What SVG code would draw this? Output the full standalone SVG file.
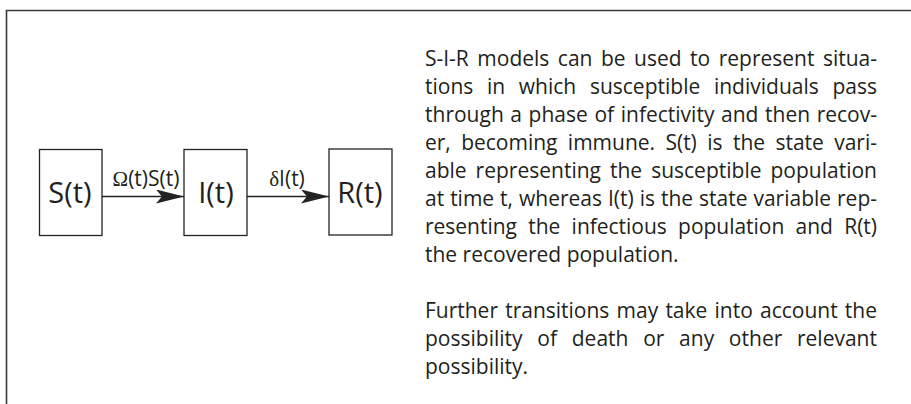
<svg xmlns="http://www.w3.org/2000/svg" width="911" height="404" viewBox="0 0 911 404">
<defs>
<style>
.frame{fill:none;stroke:#3a3a3a;stroke-width:1.6}
.box{fill:#fff;stroke:#222;stroke-width:1.3}
.lbl{font-family:"Open Sans","Noto Sans",sans-serif;font-size:29px;fill:#231f20;text-anchor:middle}
.edge{fill:none;stroke:#222;stroke-width:1.3}
.elbl{font-family:"Open Sans","Noto Sans",sans-serif;font-size:21px;fill:#231f20;text-anchor:middle}
.sym{font-family:"Liberation Serif",serif}
.para{font-family:"Open Sans","Noto Sans",sans-serif;font-size:21px;fill:#231f20}
</style>
<marker id="ah" viewBox="0 0 28 14" refX="28" refY="7" markerWidth="28" markerHeight="14" markerUnits="userSpaceOnUse" orient="auto">
<path d="M0,0 L28,7 L0,14 L6,7 Z" fill="#222"/>
</marker>
</defs>
<path class="frame" d="M6.5,404 V10.5 H911"/>
<g id="connectors">
<line class="edge" x1="102" y1="196.5" x2="184" y2="196.5" marker-end="url(#ah)"/>
<text class="elbl" x="146" y="186"><tspan class="sym">Ω</tspan>(t)S(t)</text>
<line class="edge" x1="247" y1="196.5" x2="329" y2="196.5" marker-end="url(#ah)"/>
<text class="elbl" x="287" y="186"><tspan class="sym">δ</tspan>I(t)</text>
</g>
<g id="node-S">
<rect class="box" x="39.5" y="149.5" width="62.5" height="86"/>
<text class="lbl" x="70" y="203">S(t)</text>
</g>
<g id="node-I">
<rect class="box" x="184" y="149.5" width="63" height="86"/>
<text class="lbl" x="216" y="203">I(t)</text>
</g>
<g id="node-R">
<rect class="box" x="329" y="149" width="63" height="86"/>
<text class="lbl" x="360" y="203">R(t)</text>
</g>
<g id="description">
<text class="para" x="425" y="66" word-spacing="3.07" textLength="452" lengthAdjust="spacing">S-I-R models can be used to represent situa-</text>
<text class="para" x="425" y="94" word-spacing="8.19" textLength="452" lengthAdjust="spacing">tions in which susceptible individuals pass</text>
<text class="para" x="425" y="122" word-spacing="1.13" textLength="452" lengthAdjust="spacing">through a phase of infectivity and then recov-</text>
<text class="para" x="425" y="150" word-spacing="4.96" textLength="452" lengthAdjust="spacing">er, becoming immune. S(t) is the state vari-</text>
<text class="para" x="425" y="178" word-spacing="3.55" textLength="452" lengthAdjust="spacing">able representing the susceptible population</text>
<text class="para" x="425" y="206" word-spacing="0.56" textLength="452" lengthAdjust="spacing">at time t, whereas I(t) is the state variable rep-</text>
<text class="para" x="425" y="234" word-spacing="5.9" textLength="452" lengthAdjust="spacing">resenting the infectious population and R(t)</text>
<text class="para" x="425" y="262">the recovered population.</text>
<text class="para" x="425" y="318" word-spacing="1.78" textLength="452" lengthAdjust="spacing">Further transitions may take into account the</text>
<text class="para" x="425" y="346" word-spacing="9.25" textLength="452" lengthAdjust="spacing">possibility of death or any other relevant</text>
<text class="para" x="425" y="374">possibility.</text>
</g>
</svg>
